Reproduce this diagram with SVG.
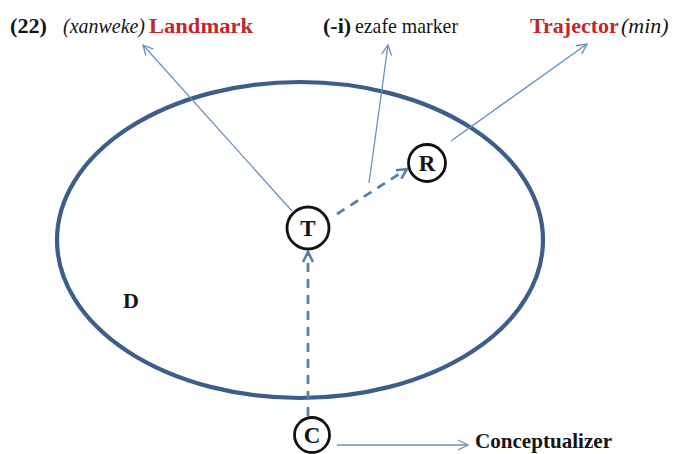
<svg xmlns="http://www.w3.org/2000/svg" width="679" height="454" viewBox="0 0 679 454">
<style>
.t{font-family:"Liberation Serif","Times New Roman",serif;font-size:22px;fill:#151515}
.b{font-weight:bold}
.red{fill:#c0282d}
.i{font-style:italic}
.thin{stroke:#6a8fbc;stroke-width:1.3;fill:none}
.dash{stroke:#5680ad;stroke-width:2.8;stroke-dasharray:9 7;fill:none}
.node{fill:#fff;stroke:#111;stroke-width:2.8}
.nl{font-family:"Liberation Serif","Times New Roman",serif;font-size:23px;font-weight:bold;fill:#151515;text-anchor:middle}
</style>
<defs>
<marker id="ah" markerUnits="userSpaceOnUse" markerWidth="14" markerHeight="14" refX="11" refY="6" orient="auto">
<path d="M1,1 L11,6 L1,11" fill="none" stroke="#6a8fbc" stroke-width="1.3"/>
</marker>
<marker id="ahd" markerUnits="userSpaceOnUse" markerWidth="16" markerHeight="16" refX="12" refY="7" orient="auto">
<path d="M2,2 L12,7 L2,12" fill="none" stroke="#5680ad" stroke-width="2.6"/>
</marker>
</defs>
<rect width="679" height="454" fill="#fff"/>
<g id="domain">
<ellipse cx="300" cy="240" rx="243" ry="158" fill="none" stroke="#3b5e8c" stroke-width="4.2"/>
<text class="t b" x="123" y="308" font-size="23">D</text>
</g>
<g id="connectors">
<line class="thin" x1="292" y1="211" x2="143" y2="45" marker-end="url(#ah)"/>
<line class="thin" x1="369" y1="183" x2="388" y2="45" marker-end="url(#ah)"/>
<line class="thin" x1="451" y1="141" x2="587" y2="44" marker-end="url(#ah)"/>
<line class="thin" x1="337" y1="445" x2="468" y2="445" marker-end="url(#ah)"/>
<line class="dash" x1="337" y1="214" x2="407" y2="169" marker-end="url(#ahd)"/>
<line class="dash" x1="308" y1="416" x2="308" y2="252" marker-end="url(#ahd)"/>
</g>
<g id="node-T">
<circle class="node" cx="308" cy="228" r="21"/>
<text class="nl" x="308" y="236">T</text>
</g>
<g id="node-R">
<circle class="node" cx="427" cy="163" r="18.5"/>
<text class="nl" x="427" y="171">R</text>
</g>
<g id="node-C">
<circle class="node" cx="312" cy="435" r="17.5"/>
<text class="nl" x="312" y="443">C</text>
</g>
<g id="labels">
<text class="t b" x="10" y="33" textLength="37" lengthAdjust="spacingAndGlyphs">(22)</text>
<text class="t i" x="63" y="33" textLength="82" lengthAdjust="spacingAndGlyphs">(xanweke)</text>
<text class="t b red" x="149" y="33" textLength="104" lengthAdjust="spacingAndGlyphs">Landmark</text>
<text class="t b" x="323" y="33" font-size="18">(-i)</text>
<text class="t" x="355" y="33" textLength="103" lengthAdjust="spacingAndGlyphs">ezafe marker</text>
<text class="t b red" x="530" y="33" font-size="19">Trajector</text>
<text class="t i" x="621" y="33" font-size="21">(min)</text>
<text class="t b" x="475" y="448" font-size="23" textLength="137" lengthAdjust="spacingAndGlyphs">Conceptualizer</text>
</g>
</svg>
